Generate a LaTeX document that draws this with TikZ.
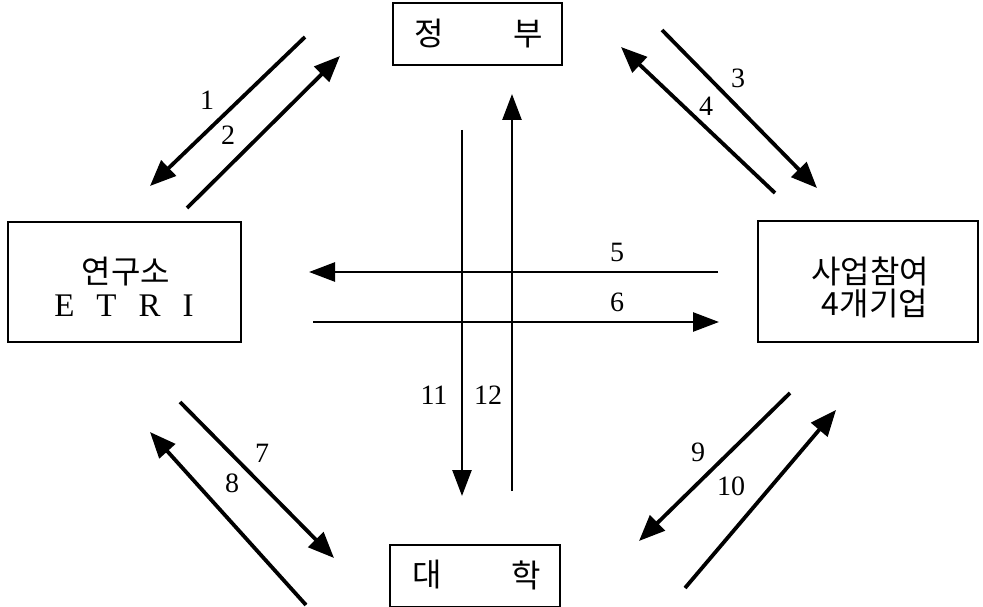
\documentclass[tikz,border=0pt]{standalone}
\usepackage{fontspec}
\setmainfont{Liberation Serif}
\newfontfamily\kr{Noto Sans CJK KR}
\usetikzlibrary{arrows.meta}
\begin{document}
\begin{tikzpicture}[x=1pt,y=-1pt,
  box/.style={draw, line width=2.2pt, inner sep=0pt},
  kor/.style={font=\kr\fontsize{32}{32}\selectfont, inner sep=0pt},
  lat/.style={font=\fontsize{33}{33}\selectfont, inner sep=0pt},
  num/.style={font=\fontsize{28}{28}\selectfont, inner sep=0pt},
  diag/.style={line width=3.8pt, -{Triangle[length=26pt,width=21pt]}},
  straight/.style={line width=2.6pt, -{Triangle[length=26pt,width=19pt]}}]
\useasboundingbox[fill=white] (0,0) rectangle (983,607);
% boxes
\node[box, minimum width=169pt, minimum height=62pt] (gov) at (477.5,34) {};
\node[box, minimum width=233pt, minimum height=120pt] (etri) at (124.5,282) {};
\node[box, minimum width=220pt, minimum height=121pt] (firm) at (868,281.5) {};
\node[box, minimum width=170pt, minimum height=62pt] (univ) at (475,576) {};
% box texts
\node[kor] (govA) at (429,34) {정};
\node[kor] (govB) at (528,34) {부};
\node[kor] (etriA) at (126,272) {연구소};
\node[lat] (etriB) at (124,306) {E\hspace{22pt}T\hspace{22pt}R\hspace{22pt}I};
\node[kor] (firmA) at (870,271) {사업참여};
\node[kor] (firmB) at (875,304) {4개기업};
\node[kor] (univA) at (427,575) {대};
\node[kor] (univB) at (526,575) {학};
% arrow end points
\coordinate (a1s) at (305,37);  \coordinate (a1e) at (150,186);
\coordinate (a2s) at (187,208); \coordinate (a2e) at (340,56);
\coordinate (a3s) at (662,30);  \coordinate (a3e) at (817,188);
\coordinate (a4s) at (775,193); \coordinate (a4e) at (621,47);
\coordinate (a5s) at (718,272); \coordinate (a5e) at (309,272);
\coordinate (a6s) at (313,322); \coordinate (a6e) at (719,322);
\coordinate (a7s) at (180,402); \coordinate (a7e) at (334,558);
\coordinate (a8s) at (306,605); \coordinate (a8e) at (150,432);
\coordinate (a9s) at (790,393); \coordinate (a9e) at (639,541);
\coordinate (a10s) at (685,588); \coordinate (a10e) at (836,410);
\coordinate (a11s) at (462,130); \coordinate (a11e) at (462,496);
\coordinate (a12s) at (512,491); \coordinate (a12e) at (512,94);
% arrows
\draw[diag] (a1s) -- (a1e);
\draw[diag] (a2s) -- (a2e);
\draw[diag] (a3s) -- (a3e);
\draw[diag] (a4s) -- (a4e);
\draw[straight] (a5s) -- (a5e);
\draw[straight] (a6s) -- (a6e);
\draw[diag] (a7s) -- (a7e);
\draw[diag] (a8s) -- (a8e);
\draw[diag] (a9s) -- (a9e);
\draw[diag] (a10s) -- (a10e);
\draw[straight] (a11s) -- (a11e);
\draw[straight] (a12s) -- (a12e);
% labels
\node[num] (n1) at (207,100) {1};
\node[num] (n2) at (228,135) {2};
\node[num] (n3) at (738,78) {3};
\node[num] (n4) at (706,106) {4};
\node[num] (n5) at (617,252) {5};
\node[num] (n6) at (617,302) {6};
\node[num] (n7) at (262,453) {7};
\node[num] (n8) at (232,483) {8};
\node[num] (n9) at (698,452) {9};
\node[num] (n10) at (731,486) {10};
\node[num] (n11) at (434,395) {11};
\node[num] (n12) at (488,395) {12};
\end{tikzpicture}
\end{document}
